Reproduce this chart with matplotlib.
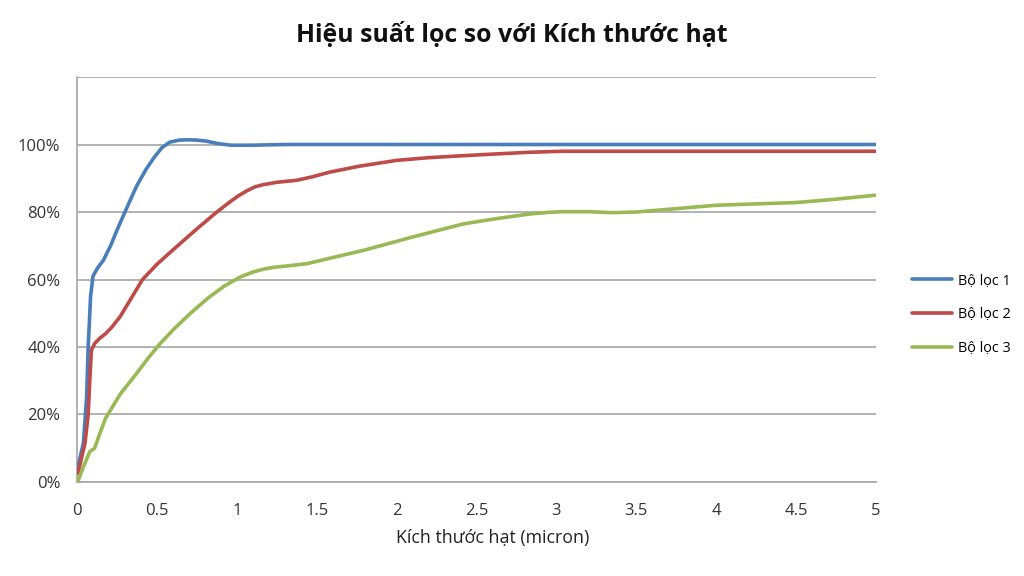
import matplotlib
matplotlib.use("Agg")
import matplotlib.pyplot as plt
from matplotlib.ticker import FuncFormatter

plt.rcParams["font.family"] = ["Open Sans", "DejaVu Sans"]

# values (percent)
x_loc1 = [0, 0.008, 0.04, 0.06, 0.07, 0.085, 0.1, 0.13, 0.165, 0.21, 0.25, 0.3,
          0.37, 0.43, 0.48, 0.53, 0.58, 0.64, 0.69, 0.75, 0.81, 0.88, 0.96,
          1.1, 1.3, 1.5, 2, 2.5, 3, 3.5, 4, 4.5, 5]
y_loc1 = [4, 5, 11.5, 25, 40, 55, 61, 63.5, 65.7, 70, 74.6, 80,
          87.4, 92.5, 96, 99, 100.7, 101.3, 101.4, 101.3, 101, 100.3, 99.8,
          99.8, 100, 100, 100, 100, 100, 100, 100, 100, 100]

x_loc2 = [0, 0.008, 0.05, 0.07, 0.08, 0.09, 0.11, 0.14, 0.18, 0.22, 0.27, 0.34,
          0.41, 0.5, 0.62, 0.75, 0.875, 0.957, 1.01, 1.06, 1.11, 1.165, 1.25,
          1.375, 1.47, 1.58, 1.77, 2.0, 2.2, 2.42, 2.62, 2.83, 3.04, 3.5, 4,
          4.5, 5]
y_loc2 = [2.5, 3, 11.5, 20, 30, 39, 41, 42.5, 44, 46, 49, 54.5,
          60, 64.5, 69.6, 75, 80, 83, 84.8, 86.2, 87.4, 88.1, 88.8,
          89.4, 90.4, 91.8, 93.6, 95.3, 96.1, 96.7, 97.2, 97.7, 98, 98, 98,
          98, 98]

x_loc3 = [0, 0.008, 0.04, 0.08, 0.11, 0.14, 0.18, 0.27, 0.37, 0.45, 0.52, 0.61,
          0.71, 0.82, 0.92, 1.02, 1.1, 1.17, 1.23, 1.33, 1.44, 1.6, 1.79, 2.1,
          2.42, 2.62, 2.83, 2.95, 3.04, 3.2, 3.35, 3.5, 3.75, 4, 4.25, 4.5,
          4.75, 5]
y_loc3 = [0, 0.5, 4.5, 9, 10, 14, 19, 26, 32, 37, 41, 45.5,
          50, 54.5, 58, 60.7, 62.2, 63.1, 63.6, 64.1, 64.7, 66.5, 68.6, 72.6,
          76.5, 78, 79.4, 79.9, 80.1, 80.1, 79.8, 80, 81, 82, 82.4, 82.8,
          83.8, 85]

labels = ["Bộ lọc 1", "Bộ lọc 2", "Bộ lọc 3"]
colors = ["#4a7ebb", "#be4b48", "#98b954"]
x_ticks = [0, 0.5, 1, 1.5, 2, 2.5, 3, 3.5, 4, 4.5, 5]
x_tick_labels = ["0", "0.5", "1", "1.5", "2", "2.5", "3", "3.5", "4", "4.5", "5"]
y_ticks = [0, 20, 40, 60, 80, 100, 120]

fig = plt.figure(figsize=(10.24, 5.76), dpi=100)
ax = fig.add_axes([0.0752, 0.1632, 0.7803, 0.7031])

series = [(x_loc1, y_loc1), (x_loc2, y_loc2), (x_loc3, y_loc3)]
for (xs, ys), lab, col in zip(series, labels, colors):
    ax.plot(xs, ys, color=col, lw=2.6, label=lab, solid_capstyle="round",
            solid_joinstyle="round", zorder=3)

ax.set_xlim(0, 5)
ax.set_ylim(0, 120)
ax.set_xticks(x_ticks)
ax.set_xticklabels(x_tick_labels)
ax.set_yticks(y_ticks)
ax.yaxis.set_major_formatter(FuncFormatter(lambda v, p: "" if v > 100 else f"{v:.0f}%"))
ax.tick_params(length=0, labelsize=12, colors="#333333")
ax.tick_params(axis="x", pad=15)
ax.tick_params(axis="y", pad=12)
ax.grid(axis="y", color="#a6a6a6", lw=1.2, zorder=1)
for s in ["top", "right"]:
    ax.spines[s].set_visible(False)
for s in ["left", "bottom"]:
    ax.spines[s].set_color("#a6a6a6")
    ax.spines[s].set_linewidth(1.2)

ax.set_xlabel("Kích thước hạt (micron)", fontsize=12.8, color="#222222")
ax.xaxis.set_label_coords(0.52, -0.115)
fig.text(0.5, 0.939, "Hiệu suất lọc so với Kích thước hạt", ha="center",
         va="center", fontsize=17.9, fontweight="bold", color="#111111")

ax.legend(loc="center left", bbox_to_anchor=(0.885, 0.4535),
          bbox_transform=fig.transFigure, frameon=False, fontsize=10.4,
          handlelength=2.75, handletextpad=0.45, labelspacing=1.3,
          borderaxespad=0)

fig.savefig("out.png", dpi=100)
